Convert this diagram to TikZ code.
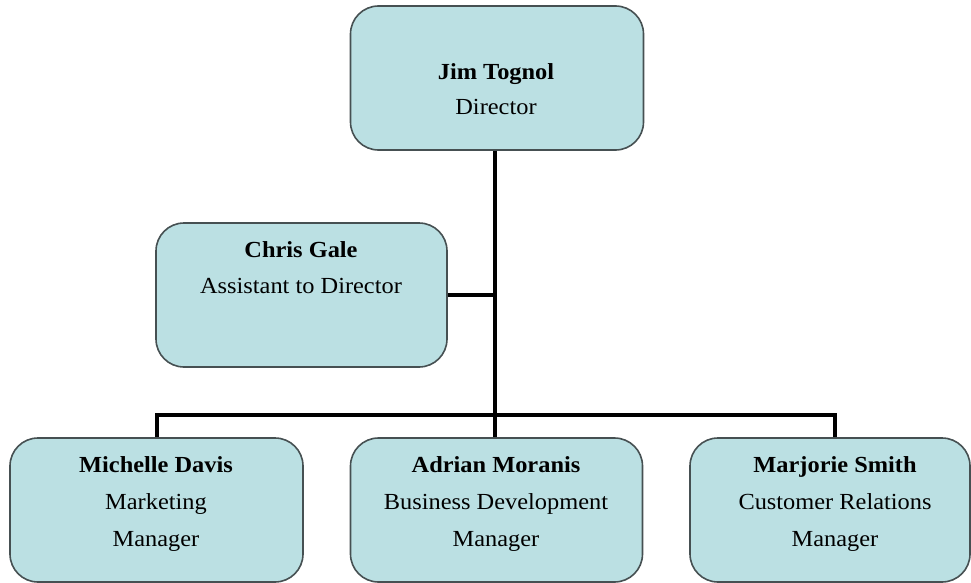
\documentclass[tikz,border=0pt]{standalone}
\usepackage{fontspec}
\setmainfont{Liberation Serif}[FakeStretch=1.06]
\definecolor{boxfill}{RGB}{187,224,227}
\definecolor{boxline}{RGB}{70,80,82}
\begin{document}
\begin{tikzpicture}[x=1pt,y=-1pt,
  orgbox/.style={draw=boxline,line width=1.6pt,fill=boxfill,rounded corners=28pt,inner sep=0pt},
  conn/.style={line width=3.2pt,black},
  txt/.style={font=\fontsize{23}{27}\selectfont,inner sep=0pt,anchor=base},
  nm/.style={txt,font=\fontsize{23}{27}\selectfont\bfseries}]
\useasboundingbox (0,0) rectangle (971,583);
% boxes
\node[orgbox,minimum width=293pt,minimum height=144pt] (top) at (497,78) {};
\node[orgbox,minimum width=291pt,minimum height=144pt] (chris) at (301.5,295) {};
\node[orgbox,minimum width=293pt,minimum height=144pt] (michelle) at (156.5,510) {};
\node[orgbox,minimum width=292pt,minimum height=144pt] (adrian) at (496.5,510) {};
\node[orgbox,minimum width=280pt,minimum height=144pt] (marjorie) at (830,510) {};
% texts
\node[nm] (t1) at (496,80) {Jim Tognol};
\node[txt] (t2) at (496,115) {Director};
\node[nm] (c1) at (301,257) {Chris Gale};
\node[txt] (c2) at (301,293) {Assistant to Director};
\node[nm] (m1) at (156,472) {Michelle Davis};
\node[txt] (m2) at (156,509) {Marketing};
\node[txt] (m3) at (156,546) {Manager};
\node[nm] (a1) at (496,472) {Adrian Moranis};
\node[txt] (a2) at (496,509) {Business Development};
\node[txt] (a3) at (496,546) {Manager};
\node[nm] (s1) at (835,472) {Marjorie Smith};
\node[txt] (s2) at (835,509) {Customer Relations};
\node[txt] (s3) at (835,546) {Manager};
% connectors
\coordinate (trunk) at (495,0);
\coordinate (busL) at (157,415);
\coordinate (busR) at (835,415);
\draw[conn] (top.south -| trunk) -- (adrian.north -| trunk);
\draw[conn] (chris.east) -- (chris.east -| trunk);
\draw[conn] (michelle.north -| busL) -- (busL) -- (busR) -- (marjorie.north -| busR);
\end{tikzpicture}
\end{document}
